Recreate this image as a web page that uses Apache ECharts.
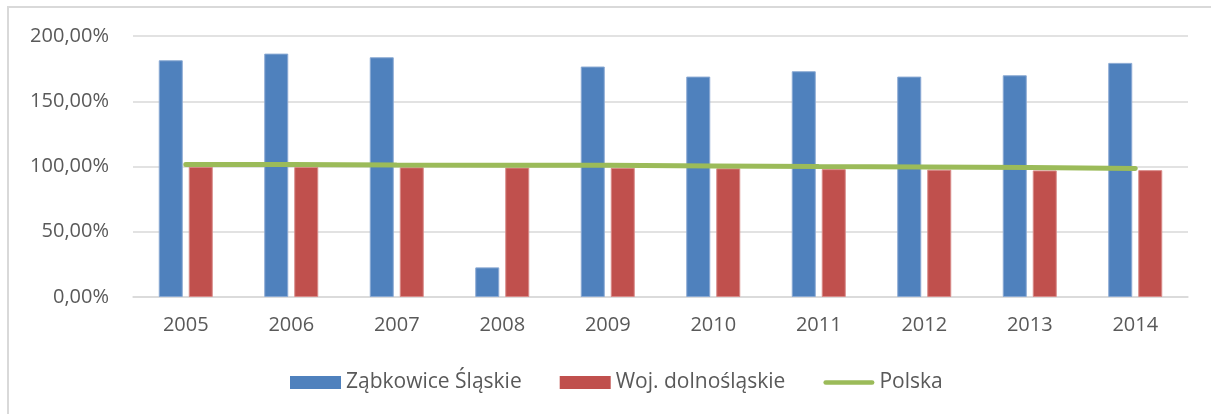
<!DOCTYPE html>
<html>
<head>
<meta charset="utf-8">
<script src="https://cdn.jsdelivr.net/npm/echarts@6/dist/echarts.min.js"></script>
<style>
html,body{margin:0;padding:0;background:#fff;}
#chart{width:1211px;height:414px;}
</style>
</head>
<body>
<div id="chart"></div>
<script>
const categories = ['2005','2006','2007','2008','2009','2010','2011','2012','2013','2014'];
const zabkowice = [181.4, 186.5, 183.7, 22.7, 176.6, 168.9, 173.0, 168.9, 169.9, 179.4];
const dolnoslaskie = [99.8, 99.6, 99.4, 99.2, 99.0, 98.6, 98.0, 97.6, 97.0, 97.2];
const polska = [101.6, 101.5, 101.2, 101.0, 100.9, 100.4, 100.0, 99.7, 99.2, 98.4];
const seriesNames = ['Ząbkowice Śląskie', 'Woj. dolnośląskie', 'Polska'];
const yTicks = [0, 50, 100, 150, 200];

const font = '"Open Sans", "Liberation Sans", sans-serif';
const chart = echarts.init(document.getElementById('chart'));
chart.setOption({
  animation: false,
  backgroundColor: '#ffffff',
  graphic: [{
    type: 'rect',
    shape: { x: 8, y: 7, width: 1230, height: 440 },
    style: { fill: 'none', stroke: '#d9d9d9', lineWidth: 2 },
    silent: true
  }],
  grid: { left: 133, right: 23, top: 36, bottom: 117, containLabel: false },
  legend: {
    data: [
      { name: seriesNames[0], icon: 'rect', itemStyle: { borderWidth: 0 } },
      { name: seriesNames[1], icon: 'rect', itemStyle: { borderWidth: 0 } },
      { name: seriesNames[2], icon: 'path://M0,0 M55,13 M2,4 L53,4 A2.5,2.5 0 0 1 53,9 L2,9 A2.5,2.5 0 0 1 2,4 Z' }
    ],
    left: 290,
    top: 372,
    padding: 0,
    itemWidth: 51,
    itemHeight: 13,
    itemGap: 38,
    textStyle: { fontFamily: font, fontSize: 21, color: '#595959' }
  },
  xAxis: {
    type: 'category',
    data: categories,
    axisLine: { show: true, lineStyle: { color: '#d9d9d9', width: 1.5 } },
    axisTick: { show: false },
    axisLabel: { fontFamily: font, fontSize: 20, color: '#595959', margin: 18 }
  },
  yAxis: {
    type: 'value',
    min: yTicks[0],
    max: yTicks[yTicks.length - 1],
    interval: 50,
    axisLine: { show: false },
    axisTick: { show: false },
    splitLine: { lineStyle: { color: '#d9d9d9', width: 1.5 } },
    axisLabel: {
      fontFamily: font, fontSize: 20, color: '#595959', margin: 24,
      formatter: v => v.toFixed(2).replace('.', ',') + '%'
    }
  },
  series: [
    {
      name: seriesNames[0], type: 'bar', data: zabkowice,
      barWidth: 24, barGap: '25%',
      itemStyle: { color: '#4f81bd', borderColor: '#8aa9d3', borderWidth: 1 }
    },
    {
      name: seriesNames[1], type: 'bar', data: dolnoslaskie,
      barWidth: 24, barGap: '25%',
      itemStyle: { color: '#c0504d', borderColor: '#d88a88', borderWidth: 1 }
    },
    {
      name: seriesNames[2], type: 'line', data: polska,
      symbol: 'none', z: 5,
      lineStyle: { color: '#9bbb59', width: 5, cap: 'round' },
      itemStyle: { color: '#9bbb59' }
    }
  ]
});
</script>
</body>
</html>
